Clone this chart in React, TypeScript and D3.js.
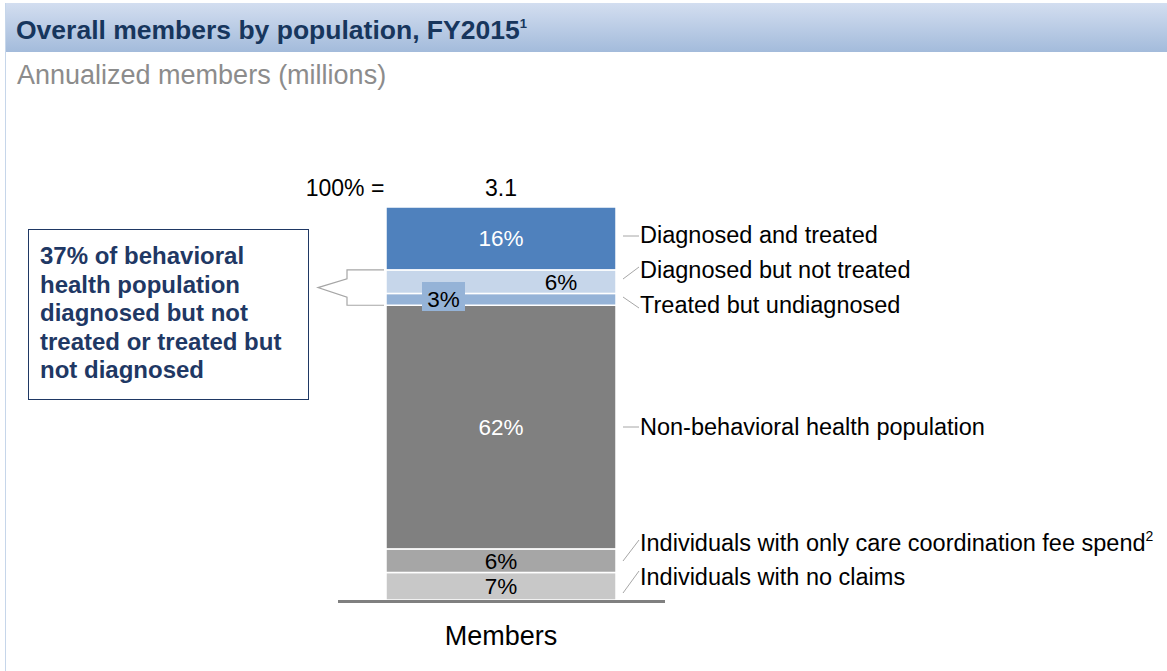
import React from "react";
import * as d3 from "d3";

const categories = [
  "Individuals with no claims",
  "Individuals with only care coordination fee spend",
  "Non-behavioral health population",
  "Treated but undiagnosed",
  "Diagnosed but not treated",
  "Diagnosed and treated",
];
const shares = [7, 6, 62, 3, 6, 16];
const shareLabels = ["7%", "6%", "62%", "3%", "6%", "16%"];
const colors = ["#c8c8c8", "#a6a6a6", "#808080", "#95b3d7", "#c6d6ea", "#4f81bd"];
const labelColors = ["#000", "#000", "#fff", "#000", "#000", "#fff"];
const superscripts = ["", "2", "", "", "", ""];
const totalLabel = "3.1";
const barCategory = "Members";
const calloutLines = [
  "37% of behavioral",
  "health population",
  "diagnosed but not",
  "treated or treated but",
  "not diagnosed",
];

const W = 1167;
const H = 671;
const FONT = "'Liberation Sans', Arial, sans-serif";

export default function App() {
  const y = d3.scaleLinear().domain([0, 100]).range([600, 207]);
  const x = d3.scaleBand().domain([barCategory]).range([386, 616]).padding(0);
  const bx = x(barCategory)!;
  const bw = x.bandwidth();
  const cx = bx + bw / 2;

  let acc = 0;
  const segs = shares.map((v, i) => {
    const y0 = acc;
    acc += v;
    return { i, y0, y1: acc, top: y(acc), bottom: y(y0) };
  });

  // right label baselines and leader geometry
  const labelBase = [585, 551, 435, 313, 278, 243];
  const leaderFrom = [593, 561, 427, 297, 279, 236];
  const leaderTo = [571, 540, 427, 308, 267, 236];

  const segLabelX = [cx, cx, cx, 443.5, 561, cx];

  const s3 = segs[3];
  const s4 = segs[4];
  const bracketTop = s4.top;
  const bracketBot = s3.bottom;
  const bracketMid = (bracketTop + bracketBot) / 2;

  return (
    <svg
      width={W}
      height={H}
      style={{ position: "absolute", left: 0, top: 0, background: "#fff" }}
      fontFamily={FONT}
    >
      <defs>
        <linearGradient id="hdr" x1="0" y1="0" x2="0" y2="1">
          <stop offset="0" stopColor="#d3def0" />
          <stop offset="1" stopColor="#a3bbdb" />
        </linearGradient>
      </defs>
      <rect x={5} y={3} width={W - 5} height={49} fill="url(#hdr)" />
      <line x1={5.5} y1={3} x2={5.5} y2={H} stroke="#c6d6ea" strokeWidth={1} />
      <text x={16} y={38.5} fontSize={26.5} fontWeight="bold" fill="#17365d">
        Overall members by population, FY2015
        <tspan fontSize={13} dy={-11}>1</tspan>
      </text>
      <text x={17} y={84} fontSize={27} fill="#8c8c8c">
        Annualized members (millions)
      </text>

      <text x={345} y={196} fontSize={23} textAnchor="middle" fill="#000">
        100% =
      </text>
      <text x={cx} y={196} fontSize={23} textAnchor="middle" fill="#000">
        {totalLabel}
      </text>

      {segs.map((s) => (
        <rect
          key={s.i}
          x={bx}
          y={s.top}
          width={bw}
          height={s.bottom - s.top}
          fill={colors[s.i]}
          stroke="#fff"
          strokeWidth={1.5}
        />
      ))}

      <line x1={338} x2={665} y1={601.5} y2={601.5} stroke="#808080" strokeWidth={3} />

      {/* 3% label box */}
      <rect x={422} y={282} width={43} height={29} fill="#95b3d7" />

      {segs.map((s) => (
        <text
          key={"l" + s.i}
          x={segLabelX[s.i]}
          y={(s.top + s.bottom) / 2 + 8}
          fontSize={22.5}
          textAnchor="middle"
          fill={labelColors[s.i]}
        >
          {shareLabels[s.i]}
        </text>
      ))}

      {categories.map((c, i) => (
        <g key={"r" + i}>
          <line
            x1={623}
            x2={639}
            y1={leaderFrom[i]}
            y2={leaderTo[i]}
            stroke="#a6a6a6"
            strokeWidth={1}
          />
          <text x={640} y={labelBase[i]} fontSize={23.5} fill="#000">
            {c}
            {superscripts[i] && (
              <tspan fontSize={14} dy={-10}>
                {superscripts[i]}
              </tspan>
            )}
          </text>
        </g>
      ))}

      {/* bracket callout */}
      <path
        d={`M${bx - 2},${bracketTop} H347 V${bracketTop + 9} L318,${bracketMid} L347,${bracketBot - 8} V${bracketBot} H${bx - 2}`}
        fill="none"
        stroke="#a6a6a6"
        strokeWidth={1.2}
      />

      <rect x={28.5} y={229.5} width={280} height={170} fill="#fff" stroke="#1f3864" strokeWidth={1} />
      {calloutLines.map((t, i) => (
        <text key={"b" + i} x={40} y={264 + i * 28.5} fontSize={24} fontWeight="bold" fill="#1f3864">
          {t}
        </text>
      ))}

      <text x={cx} y={645} fontSize={27} textAnchor="middle" fill="#000">
        {barCategory}
      </text>
    </svg>
  );
}
